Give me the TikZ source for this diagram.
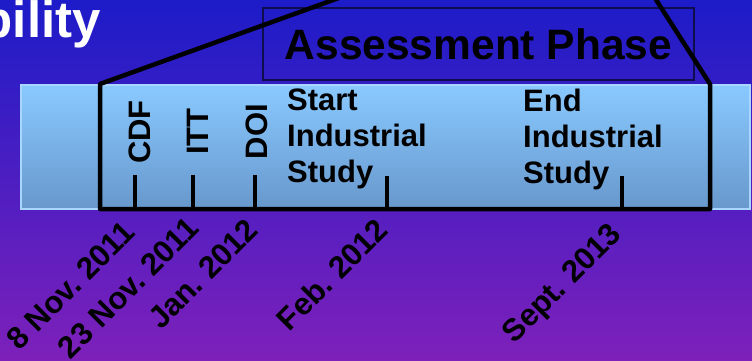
\documentclass[tikz,border=0pt]{standalone}
\usepackage{fontspec}
\setmainfont{Liberation Sans}
\usepackage{tikz}
\usetikzlibrary{positioning, calc}
\definecolor{slideTop}{RGB}{28,28,200}
\definecolor{slideMid}{RGB}{98,12,212}
\definecolor{slideBot}{RGB}{126,32,186}
\definecolor{barTop}{RGB}{137,201,255}
\definecolor{barBot}{RGB}{104,152,204}
\definecolor{barEdge}{RGB}{168,214,255}
\definecolor{phaseEdge}{RGB}{14,14,78}

\begin{document}
\begin{tikzpicture}[x=1pt,y=-1pt,
    txt/.style={font=\fontsize{31}{36}\selectfont\bfseries, inner sep=0pt},
    stamp/.style={txt, rotate=90, anchor=base},
    datelbl/.style={txt, rotate=45, anchor=base east},
    ticker/.style={line width=4pt}]
  \useasboundingbox (0,0) rectangle (752,361);
  \clip (0,0) rectangle (752,361);
  % --- slide background ---
  \shade[top color=slideTop, middle color=slideMid, bottom color=slideBot] (0,0) rectangle (752,361);
  \node[font=\fontsize{51}{51}\selectfont\bfseries, text=white, inner sep=0pt, anchor=base east] (title) at (101,38) {bility};
  % --- timeline bar ---
  \shade[top color=barTop, bottom color=barBot, draw=barEdge, line width=1.2pt] (21,85) rectangle (750,209);
  % --- phase box above the bar ---
  \node[draw=phaseEdge, line width=2pt, minimum width=431pt, minimum height=72pt, inner sep=0pt,
        font=\fontsize{42.5}{42.5}\selectfont\bfseries] (phase) at (478.5,44) {Assessment Phase};
  % --- zoom frame ---
  \coordinate (zoomL) at (347,-5);
  \coordinate (barNW) at (100,84);
  \coordinate (barSW) at (100,209);
  \coordinate (barSE) at (710,209);
  \coordinate (barNE) at (710,84);
  \coordinate (zoomR) at (653,-5);
  \draw[line width=4.5pt, line join=round] (zoomL) -- (barNW) -- (barSW) -- (barSE) -- (barNE) -- (zoomR);
  % --- milestones ---
  \coordinate (cdf) at (135,209);
  \coordinate (itt) at (193,209);
  \coordinate (doi) at (255,209);
  \coordinate (start) at (387,209);
  \coordinate (finish) at (622,209);
  \draw[ticker] (cdf) -- ++(0,-34);
  \draw[ticker] (itt) -- ++(0,-34);
  \draw[ticker] (doi) -- ++(0,-34);
  \draw[ticker] (start) -- ++(0,-33);
  \draw[ticker] (finish) -- ++(0,-33);
  \node[stamp] (cdfLbl) at (150,132) {CDF};
  \node[stamp] (ittLbl) at (208,131.5) {ITT};
  \node[stamp] (doiLbl) at (267,131.5) {DOI};
  \node[txt, align=left, anchor=north west] (startLbl) at (287,89) {Start\\Industrial\\Study};
  \node[txt, align=left, anchor=north west] (finishLbl) at (523,89) {End\\Industrial\\Study};
  % --- dates under the bar ---
  \node[datelbl] (cdfDate) at ($(cdf)+(2,25)$) {8 Nov.\ 2011};
  \node[datelbl] (ittDate) at ($(itt)+(8,21)$) {23 Nov.\ 2011};
  \node[datelbl] (doiDate) at ($(doi)+(5,23)$) {Jan.\ 2012};
  \node[datelbl] (startDate) at ($(start)+(3,23)$) {Feb.\ 2012};
  \node[datelbl] (finishDate) at ($(finish)+(1,27)$) {Sept.\ 2013};
\end{tikzpicture}
\end{document}
